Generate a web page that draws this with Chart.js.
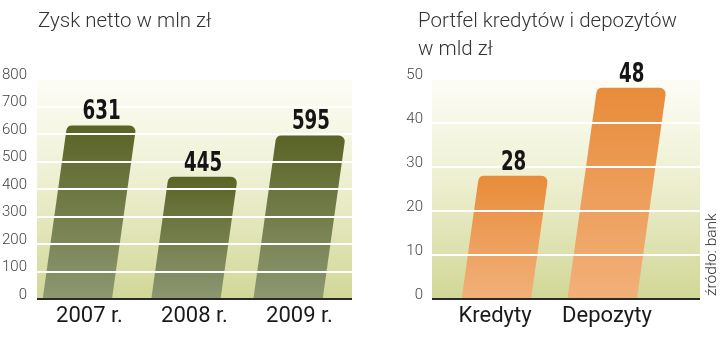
<!DOCTYPE html>
<html><head><meta charset="utf-8">
<script src="https://cdn.jsdelivr.net/npm/chart.js@4.4.0/dist/chart.umd.min.js"></script>
<style>
html,body{margin:0;padding:0;background:#fff;width:720px;height:354px;overflow:hidden;}
.wrap{position:absolute;top:0;width:360px;height:354px;}
.title{position:absolute;font-family:Roboto,'Liberation Sans',sans-serif;font-weight:300;font-size:20.5px;color:#333;line-height:28px;white-space:nowrap;}
#src{position:absolute;left:703px;top:296px;transform-origin:0 0;transform:rotate(-90deg);font-family:Roboto,'Liberation Sans',sans-serif;font-weight:300;font-size:15.5px;line-height:16px;color:#333;white-space:nowrap;}
</style></head><body>
<div class="wrap" style="left:0"><canvas id="c1" width="360" height="354"></canvas></div>
<div class="wrap" style="left:360px"><canvas id="c2" width="360" height="354"></canvas></div>
<div class="title" style="left:38px;top:6px">Zysk netto w mln zł</div>
<div class="title" style="left:418px;top:6px">Portfel kredytów i depozytów<br>w mld zł</div>
<div id="src">źródło: bank</div>
<script>
// ---- data ----
const profitYears = ['2007 r.', '2008 r.', '2009 r.'];
const profitValues = [631, 445, 595];
const portfolioCats = ['Kredyty', 'Depozyty'];
const portfolioValues = [28, 48];
const profitTicks = [0, 800, 100];   // min, max, step
const portfolioTicks = [0, 50, 10];

const SLANT = 0.14;

function roundedSlantBar(ctx, x, top, base, w, r) {
  const h = base - top;
  const s = SLANT * h;
  const blx = x - w / 2 - s / 2, brx = x + w / 2 - s / 2;
  const tlx = x - w / 2 + s / 2, trx = x + w / 2 + s / 2;
  const rr = Math.min(r, h / 2);
  ctx.beginPath();
  ctx.moveTo(blx, base);
  ctx.arcTo(tlx, top, trx, top, rr);
  ctx.arcTo(trx, top, brx, base, rr);
  ctx.lineTo(brx, base);
  ctx.closePath();
}

const slantPlugin = {
  id: 'slant',
  beforeDatasetsDraw(chart, args, opts) {
    const { ctx, chartArea: a } = chart;
    const left = a.left - (opts.extendLeft || 0);
    const right = a.right + (opts.extend || 0);
    const g = ctx.createLinearGradient(0, a.top, 0, a.bottom);
    g.addColorStop(0, '#fdfdf6');
    g.addColorStop(0.45, '#eef0d2');
    g.addColorStop(1, '#d1d796');
    ctx.save();
    ctx.fillStyle = g;
    ctx.fillRect(left, a.top, right - left, a.bottom - a.top);
    ctx.restore();
  },
  afterDatasetsDraw(chart, args, opts) {
    const { ctx, chartArea: a } = chart;
    const left = a.left - (opts.extendLeft || 0);
    const right = a.right + (opts.extend || 0);
    const meta = chart.getDatasetMeta(0);
    const data = chart.data.datasets[0].data;
    ctx.save();
    meta.data.forEach((el, i) => {
      const p = el.getProps(['x', 'y', 'base', 'width'], true);
      const g = ctx.createLinearGradient(0, p.y, 0, p.base);
      g.addColorStop(0, opts.top);
      g.addColorStop(1, opts.bottom);
      ctx.fillStyle = g;
      roundedSlantBar(ctx, p.x, p.y, p.base, p.width, 6);
      ctx.fill();
    });
    // white grid lines over bars
    const ys = chart.scales.y;
    ctx.strokeStyle = '#ffffff';
    ctx.lineWidth = 2;
    ys.ticks.forEach(t => {
      if (t.value === ys.min) return;
      const yy = Math.round(ys.getPixelForValue(t.value));
      ctx.beginPath();
      ctx.moveTo(left, yy);
      ctx.lineTo(right, yy);
      ctx.stroke();
    });
    // axis line
    ctx.strokeStyle = '#2a2a2a';
    ctx.lineWidth = 2;
    ctx.beginPath();
    ctx.moveTo(left, a.bottom);
    ctx.lineTo(right, a.bottom);
    ctx.stroke();
    // value labels (condensed bold)
    ctx.fillStyle = '#151515';
    ctx.font = "bold 26px 'Liberation Sans Narrow', 'DejaVu Sans Condensed', 'DejaVu Sans', sans-serif";
    ctx.textAlign = 'center';
    ctx.textBaseline = 'alphabetic';
    meta.data.forEach((el, i) => {
      const p = el.getProps(['x', 'y', 'base'], true);
      const s = SLANT * (p.base - p.y);
      ctx.save();
      ctx.translate(p.x + s / 2, p.y - 6);
      ctx.scale(0.78, 1);
      ctx.fillText(String(data[i]), 0, 0);
      ctx.restore();
    });
    ctx.restore();
  }
};

function makeChart(id, labels, values, ticks, cfg) {
  return new Chart(document.getElementById(id), {
    type: 'bar',
    data: {
      labels: labels,
      datasets: [{ data: values, backgroundColor: 'rgba(0,0,0,0)', borderWidth: 0,
        barPercentage: cfg.barPct, categoryPercentage: 1 }]
    },
    options: {
      responsive: false, animation: false, devicePixelRatio: 1,
      layout: { padding: { top: 79, left: 0, right: cfg.padRight, bottom: 0 } },
      plugins: {
        legend: { display: false }, tooltip: { enabled: false },
        slant: { top: cfg.top, bottom: cfg.bottom, extend: cfg.extend, extendLeft: cfg.extendLeft }
      },
      scales: {
        x: {
          grid: { display: false, drawTicks: false }, border: { display: false },
          ticks: { color: '#1a1a1a', padding: 4, labelOffset: cfg.xLabelOffset,
            font: { family: 'Roboto', size: 22 } },
          afterFit: s => { s.height = 55; }
        },
        y: {
          min: ticks[0], max: ticks[1],
          grid: { display: false, drawTicks: false }, border: { display: false },
          ticks: { stepSize: ticks[2], color: '#444', padding: cfg.tickPad, labelOffset: -4,
            font: { family: 'Roboto', size: 15, weight: 300 } },
          afterFit: s => { s.width = cfg.yWidth; }
        }
      }
    },
    plugins: [slantPlugin]
  });
}

makeChart('c1', profitYears, profitValues, profitTicks,
  { barPct: 0.66, padRight: 8, extend: 0, extendLeft: 0, yWidth: 37, tickPad: 10, xLabelOffset: 0,
    top: '#5a6426', bottom: '#8d9771' });
makeChart('c2', portfolioCats, portfolioValues, portfolioTicks,
  { barPct: 0.62, padRight: 47, extend: 27, extendLeft: 17, yWidth: 89, tickPad: 26, xLabelOffset: -10,
    top: '#e88c3a', bottom: '#f2b07a' });
</script>
</body></html>
